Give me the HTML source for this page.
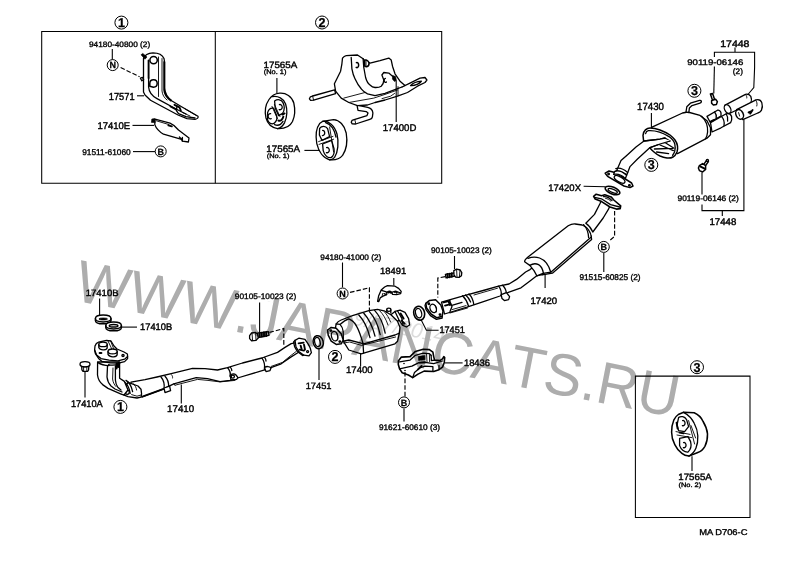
<!DOCTYPE html>
<html lang="en">
<head>
<meta charset="utf-8">
<title>Exhaust pipe parts diagram</title>
<style>
html,body{margin:0;padding:0;background:#fff;}
body{width:800px;height:565px;overflow:hidden;position:relative;}
svg{will-change:transform;position:absolute;left:0;top:0;display:block;}
text{font-family:"Liberation Sans",sans-serif;fill:#000;text-rendering:geometricPrecision;}
.l{stroke:#000;stroke-width:.4px;}
.s{stroke:#000;stroke-width:.35px;}
.t{stroke:#000;stroke-width:.35px;}
.c{text-anchor:middle;font-weight:bold;stroke:#000;stroke-width:.25px;}
.p{fill:none;stroke:#000;stroke-width:1.3;stroke-linecap:round;stroke-linejoin:round;}
.pf{fill:#fff;stroke:#000;stroke-width:1.3;stroke-linecap:round;stroke-linejoin:round;}
.th{fill:none;stroke:#000;stroke-width:.9;stroke-linecap:round;stroke-linejoin:round;}
.hv{fill:none;stroke:#000;stroke-width:1.9;stroke-linecap:round;stroke-linejoin:round;}
.k{fill:#000;stroke:#000;stroke-width:.6;stroke-linejoin:round;}
.ld{fill:none;stroke:#000;stroke-width:1.1;}
.da{fill:none;stroke:#000;stroke-width:1.15;stroke-dasharray:4.6 2;}
.bx{fill:none;stroke:#000;stroke-width:1.05;}
.ci{fill:#fff;stroke:#000;stroke-width:1;}
.wm{font-kerning:none;font-size:59.3px;fill:#adadad;stroke:none;}
.wd{font-size:21px;font-style:italic;fill:#dcdcdc;stroke:none;}
</style>
</head>
<body>
<svg width="800" height="565" viewBox="0 0 800 565">
<rect x="0" y="0" width="800" height="565" fill="#fff"/>

<!-- ===== frames ===== -->
<g id="frames">
<path class="bx" d="M41.7 31.4H441.7V183.2H41.7Z"/>
<path class="bx" d="M215.3 31.4V183.2"/>
<path class="bx" d="M635.4 376.1H750V517.5H635.4Z"/>
</g>

<!-- ===== parts ===== -->
<g id="parts">
<!-- 17571 bracket -->
<g id="p17571">
<path class="pf" d="M143.5 58.5C144.5 55.5 148 53 153 52.8C158 52.8 162.5 55 164 58.5L164.6 62V88C164.8 93 167 97 172 101L182 107L198 116.2C198.6 117.6 197.5 118.8 195 119.4L187 118.6L178 115L150.5 100.2L145 95L143.5 92Z"/>
<path class="hv" d="M148.6 60.5V78"/>
<path class="p" d="M148.6 78V87C149 92 152 96 157 98.6L177 109.5L186 114"/>
<path class="th" d="M158.5 57V96.5M162 58.5V91C162.5 95 164 97.5 167 100"/>
<path class="hv" d="M164.2 62V90C164.6 94.5 167 98 171 100.6"/>
<circle class="pf" cx="153.6" cy="60.1" r="3.7" style="stroke-width:1.5"/>
<path class="pf" d="M149.8 83.2A3.7 3.7 0 1 1 153.5 87.2L149.8 86.2Z" style="stroke-width:1.5"/>
<path class="k" d="M141 54.8L142.8 53.4L147 57L145 59.2Z"/>
<path class="pf" d="M140.4 78.2L142.4 77.4L143.6 79.6L141.8 80.8Z" style="stroke-width:1.3"/>
<path class="hv" d="M170.5 106.5L176.5 109.6M174.5 104.8L179.5 107.4L180.8 110.5"/>
<path class="p" d="M177 106.2L176.4 110.6L178.5 113.6L186 116.6L195 118"/>
<path class="th" d="M182.5 112.5L190 116M185 108.8L196.5 115.6"/>
</g>
<!-- 17410E clip -->
<g id="p17410E">
<path class="pf" d="M155 119.2L170 123.2C173 124.4 176 127 178.5 130L189 138L188.4 142L182.4 141.2L181.6 139.4L163.5 134.2C159 131.5 156 128 154.8 124.6Z"/>
<path class="k" d="M151.8 119L154.8 118.6L155.2 122.6L151.4 122.4Z"/>
<path class="th" d="M156.4 120.8L169 124.6"/>
<path class="hv" d="M168.4 125.4L171.8 126.4"/>
<path class="p" d="M182.4 137.4V141M179.4 137L181.6 139.4"/>
</g>
<!-- 17565A hanger No.1 (upper) -->
<g id="h1">
<path class="pf" d="M279.5 93.2C286 92.6 292 96.5 293.8 103C295.2 109 295 116 292.5 121.5C290 126.5 285 129 277.5 128.6C272 127.6 267.5 123.5 266 118C264.6 112 265.6 104.5 269 99.5C271.5 95.8 275.5 93.6 279.5 93.2Z"/>
<path class="p" d="M272.5 96.6C278 95.6 283.6 98.5 285.6 104C287.4 109.5 287 117 284.6 122.6C283 126 280.5 128 277.5 128.6"/>
<path class="p" d="M274.6 101C277.6 98.8 281.4 99.4 283 102.6C284.6 106 284.4 110.6 282.6 113.4L278.6 115.6L275.2 108Z"/>
<path class="p" d="M267.6 112.6C268.6 109.4 271 107.6 273.6 108.2L276.6 115.4C277.4 118.4 276.4 121.6 274 123.4C271.4 124.6 268.6 123 267.6 120Z"/>
<path class="th" d="M272 106.4L277.4 118.6M274.4 104.4L280 116.6"/>
<path class="p" d="M279.4 104.6A2.3 2.6 0 1 1 279.2 109.6M270.6 113.6A2.3 2.6 0 1 0 271.2 118.6"/>
<path class="hv" d="M282.4 114.6L284.6 113.4M278.4 120.6C280.6 121.4 282.6 119.6 283.4 116.6"/>
<path class="p" d="M274.6 124.6C277.6 126 281 124.6 283 121.4"/>
</g>
<!-- 17565A hanger No.1 (lower) -->
<g id="h2">
<path class="pf" d="M322.5 121.4L333.5 119.6C339.5 120 344.5 125 346.2 133C347.6 141 346.4 149.6 342.6 155.4C339.6 159 335 160.4 329.6 159.8C323.5 158 318.6 151.6 316.8 143.6C315.4 135.6 316.6 127.6 319.6 123.6Z"/>
<path class="p" d="M322.5 121.4C328.6 120.4 334.6 125.6 337 134C339 142.4 338 152 334.6 157.4C333.2 159 331.4 159.8 329.6 159.8"/>
<path class="p" d="M325.6 122.6C330.6 124 334.4 129.6 336 137"/>
<path class="p" d="M319.6 128.4C321.6 125.6 325.6 125.6 327.6 128.6L329.6 136.6L322 140.4L319.4 135Z"/>
<path class="p" d="M322.6 144L331.6 140.4L334 148.6C334.6 152.6 333.6 156 331 157.6C327.6 158 324.4 155 323.2 150.6Z"/>
<path class="th" d="M318.6 141.6L333 136.4M319 144.4L333.6 139.2M329.6 127L333.6 152"/>
<path class="p" d="M322.6 130.4A2.2 2.6 0 1 1 322.4 135.6M326.6 147.6A2.2 2.6 0 1 1 326.4 152.6"/>
</g>
<!-- 17400D heat insulator bracket -->
<g id="p17400D">
<path class="pf" d="M312.6 96L334.6 89.8L335.6 93.6L313.6 100.2L310.6 100.4L309.4 98.8L310.4 96.8Z"/>
<path class="th" d="M312.6 96L313.6 100.2"/>
<path class="pf" d="M357 105.2L367.6 107.4C370.6 108 372.6 110 372.9 113L372.4 116.8C372.2 118.2 371.2 119 369.8 119.4L355.6 124L352.2 123.8L351.2 122.2L352 120.4L354.2 119.6L367 115.6L368 113L366.2 111.6L358 110.4Z"/>
<path class="th" d="M354.8 119.6L355.8 123.8"/>
<path class="pf" d="M342.5 58.1C343.6 56.6 345 55.8 346.2 55.6L357.5 55L363.1 58.7L364.4 60.4L370 63.1L380 60.6L388.8 58.1L391.2 60L392.5 66.2L395 73.8L400 81.2L405 85.6L402 87L410 83.1L420 78.1L425 77.5L426.9 80L425 82.5L417.5 86.2L407.5 92.5L397.5 96.2L385 100L375 102.5L367.5 105L357.5 105.6L348.8 102.5L341.2 98.1L335.6 91.2L334.4 83.8L337.5 77.5L340.6 71.2L341.9 63.8Z"/>
<path class="p" d="M363.1 58.7L363.8 67.5L365.6 77.5C366.6 81 368 83.6 370 85C371.6 86.6 373.4 87.4 375 87.5C377.6 87.6 379.8 87.2 381.2 86.2C382.8 84.6 383.8 82.4 383.8 80L381.9 75L383.8 72.5L388.8 73.1L392.5 76.2"/>
<path class="p" d="M351.2 57.5L351.9 68.8C352.6 72.6 353.6 76 355 78.8C356.6 82.4 358.6 85.8 361.2 88.8C363 91 365 92.6 367.5 93.8L375 95.6L385 93.4L397.5 88.6L402 87"/>
<path class="th" d="M343.8 98.1L365 92.5M348.8 102.5L373.8 98.1L385 94.4L397.5 90"/>
<path class="p" d="M356.4 62.6A1.7 2.6 0 1 1 356.2 67.4" style="stroke-width:1.5"/>
<path class="pf" d="M364.6 60.2C366.6 59.6 368.6 60.8 369 63C369.2 65 368.2 66.4 366.6 66.8L364.8 66.2Z" style="stroke-width:1.5"/>
<path class="th" d="M366 60V66.6"/>
<path class="k" d="M392.6 75.4L395.6 76.6L396.4 80.6L394.4 81.4L392.4 79Z"/>
<path class="p" d="M385.4 78.4A1.4 2 0 1 0 386.4 82"/>
<path class="p" d="M410.5 85.6C412.5 83.6 417 81.6 421.4 81.2C420 83.6 415 86 410.5 85.6Z"/>
<path class="th" d="M382 98.6L390.6 96.2L394.6 93.4M398 86.6L398 95.8"/>
</g>
<!-- 17410 front pipe -->
<g id="p17410">
<!-- long pipe body -->
<path class="pf" d="M131 382.2L145 379.6L157 377L171.2 373.6L192.5 368.4L205 368.7L217.5 370L227.5 367.6L242.5 363L261.9 358L277.5 352.4L285 347.4L291.2 343.6L296 342.6L299 352L290 357.6L281.2 363.8L267.5 368.8L263.8 370.2L237.5 378L230 380.4L220 381.6L207.5 378.6L196.2 377.6L173.8 383.8L163 389.2L142 397L131 392Z"/>
<path class="hv" d="M142.4 396.6L163 389.2"/>
<path class="th" d="M175 385.2L197.5 379.4L208 380.4L220 381.9L235 380.4M173.8 383.8L175 385.2"/>
<path class="th" d="M271.2 366.4L282.5 362.4L290 356.2L296 351.6"/>
<!-- band clamp 1 -->
<path class="p" d="M161 377C163.6 380 164.6 385 164 389M165 376.2C167.6 379 168.8 383 168.6 386.6"/>
<path class="pf" d="M164 388L169.6 386.2L170.6 390.6L165 392.6Z"/>
<path class="th" d="M171.4 374.6C172.4 375.6 172.8 377 172.6 378"/>
<!-- band clamp 2 -->
<path class="p" d="M227.6 367.8C229.6 370 230.6 373.6 230.2 376.6M230.4 367.4C231.4 368.4 231.8 369.6 231.8 370.6"/>
<path class="pf" d="M230.2 375.2C231.6 373.6 234.6 373.6 236 375L238 377.6L236.6 379.4L231 380Z"/>
<circle class="p" cx="232.8" cy="376.6" r="1.6"/>
<!-- band 3 -->
<path class="p" d="M262 358.2C264 361 265 365.6 264.4 369.6M264.6 357.4C265.6 358.6 266 360 266 361"/>
<path class="pf" d="M264.6 367.6C266.4 366 269.6 366.2 271 368L270 370.6L266 371.6Z"/>
<!-- rear flange of front pipe -->
<path class="pf" d="M295 340.4L298.8 338.2L305 339.4L308.4 344.4L310.2 348L311.4 352.6L309 355.8L303.8 355.2L298.8 351.4L296 347Z"/>
<path class="p" d="M295 340.4L293.6 342L294.6 346.6L297.4 351.6L302.6 355.6L303.8 355.2"/>
<path class="hv" d="M298.6 343.4L303.6 342.6M299.6 349.6L304 350.6M300.6 345.6L301.6 349M304 344.6L305 349.6"/>
<circle class="p" cx="307.6" cy="351.6" r="1"/>
<!-- joint shield near front -->
<path class="pf" d="M128 382.4L138 386L141 389.2L141.6 394L141 397.2L137 398L128 396.6L121 393.8Z"/>
<path class="p" d="M124 381.4C127 383.6 129.4 388 130.2 393.4M126 380.4C129.4 382.4 131.6 386.6 132.6 391.6"/>
<circle class="pf" cx="127.2" cy="392.2" r="2.1"/>
<path class="th" d="M131.6 394.6L137 396.2L141 395M133 383.6C135 385 136.4 387.6 136.6 390"/>
<!-- twin down pipes -->
<path class="pf" d="M97.6 362L97.5 375C98 379 99.6 382 102.6 384.6L108 388.4L120 393.6L124 395L128 390L124.4 381.4L119.6 378.2L119.6 362Z"/>
<path class="p" d="M107.5 366L107 377C107.4 380.6 108.6 383.6 111 386L115 389L122 392"/>
<path class="p" d="M115.4 366V380C115.6 383 116.4 385.6 118 387.6L121 390"/>
<path class="hv" d="M116.6 363.4V368.6M118.4 362.6V367"/>
<path class="th" d="M113 368L112.6 379C113 382 114 384.6 116 386.6"/>
<path class="p" d="M97.6 362.4C100.6 364.4 104.6 365.6 109 365.6M108.6 364.6C111.6 365.6 115.6 365.2 119.6 363.6"/>
<!-- flange plate -->
<path class="pf" d="M95 346C95.6 344 97 342.6 98.6 342.2L106.5 340.4L111 341L114 346L117 349L124 352L127.4 354L127.6 356.6L124.6 359.2L118 360.8L109 360.2L101 358.6L96.6 355L94.6 350Z"/>
<path class="p" d="M94.6 350L95.4 353.6L98.6 358.4L102 361.4L110 362.8L118.6 363.2L124.6 361.6L127.6 358.6L127.6 356.6"/>
<ellipse class="pf" cx="103" cy="344.4" rx="4.2" ry="2.2"/>
<path class="p" d="M98.8 344.6V347.6C99.6 349.4 102 350 104 349.8C106 349.6 107.2 348.6 107.2 347.4V344.6"/>
<ellipse class="pf" cx="112.6" cy="351.4" rx="4.6" ry="2.4"/>
<path class="p" d="M108 351.6V354.4C109 356.2 111.6 357 113.6 356.8C115.6 356.6 117.2 355.6 117.2 354.2V351.6"/>
<path class="th" d="M108 341L111.6 348.6M110.6 341L113.6 348.6"/>
<circle class="p" cx="123" cy="355.6" r="1.1"/>
<path class="hv" d="M99.6 353H101.4"/>
</g>
<!-- 17410A nut -->
<g id="p17410A">
<path class="pf" d="M81.6 365.2L81.9 369.8L83 371.3H87.6L88.6 369.8L88.9 365.2Z"/>
<ellipse class="pf" cx="85" cy="364.2" rx="5" ry="2.6"/>
<path class="th" d="M83.6 367V371M86.8 367V371"/>
<path class="th" d="M81.2 366.2C82.4 367.4 87.6 367.4 88.9 366.2"/>
</g>
<!-- bolt 90105-10023 (left) -->
<g id="bolt1">
<path class="pf" d="M257.4 333.2L268.4 331.6L269 335.4L258 337.6Z"/>
<path class="hv" d="M259.6 333V337M261.8 332.6V336.6M264 332.2V336.2M266.2 332V336"/>
<path class="pf" d="M249.6 335.6L251.6 333L255.6 332.4L257.6 334.4L258.2 338L256 340.4L251.6 340.8L249.6 338.6Z"/>
<path class="th" d="M252 333L252.6 340.6M255.6 332.6L256 340.2"/>
</g>
<!-- gasket 17451 (left) -->
<g id="g17451a">
<ellipse class="pf" cx="318.2" cy="342.2" rx="5" ry="6.6" transform="rotate(-14 318.2 342.2)" style="stroke-width:1.5"/>
<ellipse class="p" cx="317.4" cy="342" rx="2.7" ry="4.6" transform="rotate(-14 317.4 342)"/>
</g>
<!-- 17410B rings -->
<g id="p17410B">
<path class="pf" d="M95.4 318.6C95.4 316.4 98.8 315 103.2 315C107.6 315 111 316.4 111 318.6V320.4C111 322.4 107.6 323.8 103.2 323.8C98.8 323.8 95.4 322.4 95.4 320.4Z" style="stroke-width:1.5"/>
<path class="p" d="M95.4 318.6C95.4 320.6 98.8 322 103.2 322C107.6 322 111 320.6 111 318.6"/>
<ellipse class="k" cx="103.2" cy="319" rx="4.3" ry="1.1"/>
<path class="pf" d="M105.8 325.6C105.8 323.4 109.2 322 113.6 322C118 322 121.4 323.4 121.4 325.6V327.4C121.4 329.4 118 330.8 113.6 330.8C109.2 330.8 105.8 329.4 105.8 327.4Z" style="stroke-width:1.5"/>
<path class="p" d="M105.8 325.6C105.8 327.6 109.2 329 113.6 329C118 329 121.4 327.6 121.4 325.6"/>
<ellipse class="p" cx="113.6" cy="325.8" rx="4.3" ry="1.3" style="stroke-width:1.5"/>
</g>
<!-- 17400 catalytic converter -->
<g id="p17400">
<!-- outlet flange (rear) -->
<path class="pf" d="M395 311.4L400 310.2L405 312.4L408.6 318.6L409.6 325L406.4 327L402.4 325.2L399 320Z"/>
<path class="hv" d="M400.6 313.6L403.6 318.6M401.6 320.6L404.6 323.6"/>
<path class="p" d="M397.6 311L402 318.6L403 325"/>
<!-- lower shell -->
<path class="pf" d="M343.4 341.4L348.8 350L361.2 353.8L395 343.8L397.6 341.2L399.4 333L396 326Z"/>
<!-- body upper shell -->
<path class="pf" d="M336.2 323.8C337.6 321.6 339.6 320.6 341.2 320L352.5 315.6L368.8 310.6L377.5 309.4L385 311.2L391.2 315L397.5 321.2L400 327.6L399.4 333.2L395 335L363.8 343.8L361.2 343.2L348.8 340L343.2 341.2L341 337Z"/>
<path class="p" d="M340 324.4C342.6 322 346 319.6 348.8 318.8C352 320 355 323 356.8 326.6C359 330.6 361 336.4 363 343.4"/>
<path class="p" d="M358.8 315C363.6 320 367.6 328 370 337.6M363.8 313.2C368.6 318.4 372.6 326.4 375 336.2M369.4 311.6C374 316.6 378 324.6 380.2 334.6M374.6 310.4C379 315 383 322.4 385.2 333.2"/>
<path class="th" d="M379.6 310.6C383 314 386 319 388 325M384.6 312C387 314.6 389 318 390.6 322"/>
<path class="p" d="M363 343.4L363.6 353"/>
<path class="th" d="M343.6 343L349.6 342L361.6 345.4L395.6 337"/>
<ellipse class="pf" cx="388.8" cy="309.8" rx="2.1" ry="1.6"/>
<path class="p" d="M386.8 310V312.2M390.8 310V313"/>
<path class="p" d="M391.2 314.6L395 311.4M397.6 321.2L399.4 320.4"/>
<!-- inlet neck + front flange -->
<path class="pf" d="M336.2 323.8L340 324.4C342 326.4 343 329 343.2 331.6L343.4 341.4L339 338L335 330Z"/>
<path class="pf" d="M327.6 330L331.2 327.4L336.2 328.2L341.2 333.8L343.2 340L341.2 343.8L336.2 344.4L331.2 341.2L328.2 335.2Z" style="stroke-width:1.5"/>
<ellipse class="pf" cx="334.6" cy="336.2" rx="3.1" ry="4.8" transform="rotate(-16 334.6 336.2)"/>
<path class="th" d="M336.6 332.6C337.8 334.6 338.2 337.6 337.6 340"/>
<circle class="p" cx="330.8" cy="330.6" r=".8"/><circle class="p" cx="339.8" cy="341.6" r=".8"/>
</g>
<!-- 18491 upper shield -->
<g id="p18491">
<path class="pf" d="M377.6 301.4L378.6 296L381.2 290L384.6 287L387.5 285.6L395 286.2L398.6 288.4L401.2 291.4L400.6 293.6L396.6 294.6L392.6 294.4L391.6 292.4C390.4 290.8 388 290.8 387 292.4L386.6 294.6L383 296.2L380.4 297.6L378.8 301.6Z"/>
<path class="p" d="M381.4 290.4L385.6 291.6L387 292.4M384 293.6L386.6 294.6M391.6 292.4L395.6 291.2L400.6 293"/>
<path class="hv" d="M388.6 292.6C389.4 291.6 390.6 291.8 391 292.8"/>
<path class="th" d="M394.4 292.6H397.4M396.6 291.8V293.4M382 296.8L382.6 293.6"/>
</g>
<!-- gasket 17451 (right) -->
<g id="g17451b">
<ellipse class="pf" cx="419.2" cy="313.2" rx="5.4" ry="7" transform="rotate(-16 419.2 313.2)" style="stroke-width:1.6"/>
<ellipse class="p" cx="418.6" cy="313.2" rx="3" ry="4.8" transform="rotate(-16 418.6 313.2)"/>
</g>
<!-- 18436 lower bracket -->
<g id="p18436">
<path class="pf" d="M398.3 361L401.4 357.1L410.1 356.6L415.4 351.4L423.2 349.2L429.4 349.6L432.9 352.2L433.7 356.6L434.6 360.1L439.9 360.6L442.5 358.8L443.8 356.6L444.7 357.5L444.2 362.7L442.5 367.1L439 369.7L433.7 371.5L424.1 371.1L418 374.1L412.7 377.6L408.4 375L402.2 372.8L399.6 368.9L398.3 364.5Z" style="stroke-width:1.6"/>
<path class="p" d="M399.6 361.9L410.1 360.1L415.4 355.3L423.2 353.1L429.4 353.6L431.1 355.3"/>
<path class="p" d="M399.6 368.9L411.9 366.2L418.9 362.7L425 362.3L433.7 363.6L442.5 361"/>
<path class="p" d="M412.7 377.6L414.5 372.4L419.7 368L425 366.2L432.9 366.7L432.9 371.3"/>
<path class="p" d="M439 365.4V369.6M431.1 355.3L431.4 360.6L434.6 360.1"/>
<path class="k" d="M418.4 356.2L424.8 355.6L425 359.8L418.6 360.4Z"/>
<path class="hv" d="M418 369.4L421.6 366M419.6 362.6L425 362.2"/>
<path class="th" d="M426.6 354.4L427 361.6M429.4 354.6L429.6 361.6"/>
<circle class="k" cx="404" cy="363.6" r=".5"/><circle class="k" cx="405" cy="370.6" r=".5"/>
</g>
<!-- 17420 center pipe -->
<g id="p17420">
<!-- pipe front section -->
<path class="pf" d="M441.5 302L462.5 296L485 290L498.5 286.2L509 284L516.5 279.4L525.6 272L530 269.6L536.8 264.4L547 262L550.8 268.8L550 272.6L536.8 275.8L530 281L521 287.8L509 292.2L500 296L485 301.2L467 307.2L444.5 314Z"/>
<path class="p" d="M462.6 295.8C465.4 298.6 467.6 302.6 468.6 306.4M465.6 295C468 297 469.6 299.6 470.6 302M469 294C471.6 296.6 473.2 300.4 473.8 304.4"/>
<path class="hv" d="M443.6 302.4L449.6 300.8M445 305.6L450.6 304.2M448.6 301.4L449.8 305"/>
<path class="p" d="M449.6 300.8L452 306.4L450 311.6M451 305.6L462 302.4"/>
<path class="th" d="M450 313L467.5 308M474 295L497.5 288.2M452 309.6L466 305.6"/>
<!-- clamp -->
<path class="p" d="M498.6 286.2C500.6 288.6 501.6 292 501.2 295.6M502.6 285.2C505 287.6 506.4 291.4 506.2 294"/>
<path class="pf" d="M501.2 294.6L506.4 292.6L509.6 296.6L508.6 299.6L504.4 300.6L502 298.6Z"/>
<!-- front flange -->
<path class="pf" d="M425.8 303.4L429.6 300.4L435.6 299.8L440.8 305L443 311L442.2 316.2L437 317.8L431 314L426.6 308Z" style="stroke-width:1.5"/>
<ellipse class="pf" cx="433.2" cy="308.4" rx="3.1" ry="4.4" transform="rotate(-20 433.2 308.4)"/>
<path class="th" d="M435 305.4C436.4 307.4 436.8 310 436.4 312"/>
<circle class="p" cx="428.8" cy="303.8" r=".8"/><circle class="p" cx="440" cy="314.6" r=".8"/>
<path class="p" d="M425.8 303.4L425 305.4L426 309.6L430.4 315.6L436.4 319.4L442.2 318L442.2 316.2"/>
<!-- resonator -->
<path class="pf" d="M542 274.8L552.4 273.2L591.6 239.4L591.2 236L586 238Z"/>
<path class="pf" d="M524.6 261.8C524.4 260 526 258.6 528 257L568.2 225.8C570.6 224.4 573 223.8 575.2 224L582.2 225C585 226 587.4 228 589 230.6C590.6 233 591.4 235.4 591 237.2L550.8 272.2L543 273.4L536.8 275.8L534 270.6L529.8 265.4Z"/>
<path class="p" d="M528 258.4C531.6 257 535.6 256.8 539.6 258C544.6 259.8 548.6 264.4 550.8 272.2"/>
<path class="p" d="M529.8 265.4C532.6 263.6 536 263.4 538.6 264.6C541 266 542.6 268.6 543.4 273"/>
<path class="p" d="M583.6 224.6C586.4 227.6 588.4 232 588.6 237.6"/>
<!-- outlet pipe and rear flange -->
<path class="pf" d="M585.8 223.2L594.5 214.4L599.8 204L601.4 200.4L610.4 204.8L608.5 209.2L603.2 218L592.8 232C591.6 229 589 225.4 585.8 223.2Z"/>
<path class="pf" d="M593.6 196.3L596.2 194.2L601.6 195.8L604.8 194.8L611.1 196.9L613.8 200L620.7 205.9L620.2 208.6L616.4 209.1L610 207L601.6 201.6L595.2 199Z" style="stroke-width:1.6"/>
<path class="p" d="M594.6 197.4L601.4 198.8L610.6 204.6L619.6 207M603.6 196.6C606.6 196.4 610 198.2 612 200.6"/>
<path class="th" d="M605.6 198.4C607.6 198.6 609.6 199.8 610.8 201.2"/>
</g>
<!-- 17420X gasket -->
<g id="p17420X">
<ellipse class="pf" cx="612.5" cy="190.5" rx="7.8" ry="3.4" transform="rotate(22 612.5 190.5)" style="stroke-width:1.6"/>
<ellipse class="p" cx="612.7" cy="190.8" rx="4.9" ry="1.6" transform="rotate(22 612.7 190.8)"/>
</g>
<!-- bolt 90105-10023 (right) -->
<g id="bolt2">
<path class="pf" d="M445.4 274.4L454.4 272.8L455 276L446 277.8Z"/>
<path class="hv" d="M447.4 274V277.6M449.6 273.6V277.2M451.8 273.2V276.8"/>
<path class="pf" d="M453.8 270.6L456.6 269.2L460.2 270L461.8 272.6L461.4 275.8L459 277.4L455.6 277.2L454 275Z"/>
<path class="th" d="M456.6 269.4L457 277.2M460 270.2L459.4 277"/>
</g>
<!-- 17430 main muffler -->
<g id="p17430">
<!-- tail outlets -->
<path class="pf" d="M707 116.4L717.5 110.2C719 109.8 720.6 111 721 112.8L721 116L710 122Z"/>
<path class="pf" d="M710.5 122.6L726.2 113.8C728.6 113.2 730.8 114.4 731.6 116.4C732 118.6 731.6 121 730.6 122.6L721 127.8L712 132Z"/>
<path class="p" d="M714.6 112C716 113.6 716.6 116 716.2 118.2M721.6 116.6C723.6 118.6 724.6 122 724 125.6M726.2 114C727.6 116 728.2 118.6 727.6 121"/>
<path class="hv" d="M710.6 121.6L713.6 120.2"/>
<!-- body -->
<path class="pf" d="M651.5 127.4L682.5 113L687.8 112L700 115.4L707 120.8L710.5 127.8L710.5 134.8L707 138.2L677.5 153.6L664 150Z"/>
<path class="p" d="M701.6 116.2C705.6 120 708 126 707.6 132C707.4 134.6 706.6 137 705.4 138.8"/>
<!-- front face -->
<path class="pf" d="M643 135.4C643.4 132.6 644.2 130.8 645.4 129.8C646.8 128.6 648.4 128 650 128C653.4 128 656.8 128.8 660 130C663.6 131.4 667 133 670 135C672 136.6 673.6 138.2 675 140C676.4 142 677.2 144 677.5 146C677.8 148.2 677.6 150.2 677 152C676 154.4 674.8 156 673 157C671.2 158 669.2 158.3 667 158C664.6 157.6 662.4 157 660 156C657.8 155 655.8 153.6 654 152C652.4 150.6 651 149.2 650 148L643.6 141Z" style="stroke-width:1.5"/>
<path class="p" d="M645.6 133.6C646 131.8 647 130.8 648.4 130.6C655 130.2 663 132.8 669 136.6C672 138.8 674 141 674.8 144C675.4 146.6 675.4 149.4 674.6 151.8C674 153.4 673.4 154.4 672.6 155.2"/>
<path class="p" d="M661 140L674 148.2M654.4 149L672.6 148.4M660 145L673.4 150.6M656.6 152L668.6 153.6"/>
<!-- inlet pipe (over the face) -->
<path class="pf" d="M616.5 171L621 160.6L627 155.2L636 147L644 141L660 139.2L665 138L670 141L660 144L650 147.6L637.5 159L630 166.6L627 174.6Z"/>
<path d="M661 138.6L670.6 140.6L661 144.4L656 143Z" fill="#fff" stroke="none"/>
<path class="p" d="M644 141L660 139.2L665 138M650 147.6L660 144L670 141"/>
<path class="p" d="M614.6 171.6C617.6 170 622.6 171.6 626.6 175.2M615.8 168.6C619 167.6 624 169.4 627.6 172.6"/>
<!-- inlet flange -->
<path class="pf" d="M605.2 173.2L609 171L615 172.4L631.6 183L633 186L630 187.6L624 186L607.6 176.4Z" style="stroke-width:1.5"/>
<ellipse class="pf" cx="619.6" cy="179.4" rx="6" ry="2.5" transform="rotate(30 619.6 179.4)"/>
<path class="pf" d="M614.6 171.6C617.6 170 622.6 171.6 626.6 175.2L625.4 178.6C622.4 175.6 617.6 173.6 613.6 174.4Z"/>
<circle class="p" cx="608.6" cy="174" r=".8"/><circle class="p" cx="629.4" cy="185.4" r=".8"/>
<!-- hanger hook -->
<path class="pf" d="M686 112L686.8 106.8L690.4 103.2L699.6 100.4C700.6 100.2 701.4 100.8 701.4 101.6C701.4 102.4 700.8 103 700 103.2L692 105.6L689.4 108L688.8 112.6Z"/>
</g>
<!-- 17448 tail pipe tips -->
<g id="p17448">
<path class="pf" d="M724.6 105.4L745.5 94.4C747.6 93.8 749.6 94.8 750.8 96.4C751.8 98.4 751.6 101 750.8 103.2L730.6 113Z"/>
<ellipse class="pf" cx="727.6" cy="109" rx="3" ry="4.6" transform="rotate(-26 727.6 109)"/>
<path class="th" d="M745.6 94.6C746.6 95.6 747 97 746.8 98"/>
<path class="pf" d="M736.6 109.6L756 99.8C758.6 99.2 761 100.4 761.8 102.6C762.6 105 762.4 108 761.4 110.4C760.6 111.8 759.4 112.6 757.8 113L742.8 119.6Z"/>
<ellipse class="pf" cx="739.6" cy="114.4" rx="3.6" ry="5" transform="rotate(-26 739.6 114.4)" style="stroke-width:1.5"/>
<path class="th" d="M755.6 100C757 101.6 757.4 104 756.8 106M738.6 112.6L739.6 116"/>
<path class="hv" d="M748.6 112.4L751.6 111.2M750.2 113.6L752.6 110"/>
</g>
<!-- small bolts 90119-06146 -->
<g id="bolts3">
<path class="pf" d="M710.4 94L712.6 93.4L714.6 99.6L712.6 100.4Z" style="stroke-width:1.5"/>
<path class="pf" d="M711.6 100.6L715.6 99.2L717.4 101.6L716.4 104.4L713.4 105L711.6 103.2Z" style="stroke-width:1.5"/>
<path class="pf" d="M706.6 160.4L708.4 161.6L705 166.4L703 165.4Z" style="stroke-width:1.5"/>
<circle class="pf" cx="707.4" cy="160.6" r="1.1"/>
<path class="pf" d="M699.4 165.6L702.6 163.6L705.6 165.6L705.6 169.4L702.6 172L699.4 170.6L698.4 168Z" style="stroke-width:1.5"/>
<path class="hv" d="M700.6 166.6L704.6 168.6"/>
</g>
<!-- 17565A hanger No.2 -->
<g id="h3">
<path class="pf" d="M683.6 412.3L694.2 412.7C698.6 414.6 701.6 418 703.1 421.5C705.6 425.6 707.2 430 707.5 433.9C707.6 438.6 706.6 443 704.9 446.3C703 449.6 700.6 451.6 697.8 452.5L688.9 456.1C686 455.8 683.6 454.8 681.9 453.4C678.6 451 676.4 448 674.8 444.6C672.6 440.6 671.6 436.4 671.6 432.2C671.6 427.6 672.4 423.4 673.9 419.8C675 417.6 676.4 415.8 678.3 414.5Z" style="stroke-width:1.5"/>
<path class="p" d="M683.6 412.3C688 414.6 692 418.6 694.2 423.3C696.4 427.4 697.6 431.6 697.8 435.7C698 440.4 697.4 444.6 696 448.1C694.6 451.6 692 454.6 688.9 456.1"/>
<path class="p" d="M678.6 417.6C681 415.6 684.6 416.6 686.6 419.6L688.6 426.6L684.6 431.6L678.6 430.6L677 425Z"/>
<path class="p" d="M679.6 438.4L688 436.6L690.6 441.6C691.6 445.6 690.6 449.6 688 452C684.6 452.4 681 449.6 679.6 445.6Z"/>
<path class="th" d="M676 431.6L690 434.4M677 435L691.6 437.6M688.6 420.6L694.6 444M691 425.6L695.6 438"/>
<path class="p" d="M682.6 420.6A2 2.6 0 1 1 682.4 425.6M683.6 442.6A2 2.6 0 1 1 683.4 447.6"/>
<path class="hv" d="M676.6 422.6L677.6 428.6M679.6 432.6L683.6 433.4"/>
</g>
<!--PARTS-->
</g>

<!-- ===== leaders ===== -->
<g id="leaders">
<path class="ld" d="M112.3 49V60"/>
<path class="da" d="M120.6 67.6L139.6 76.8"/>
<path class="ld" d="M137 95.8H144"/>
<path class="ld" d="M132.5 125.4H154"/>
<path class="ld" d="M133 151.6H155"/>
<path class="ld" d="M276.9 78V93.4"/>
<path class="ld" d="M304.4 150.4H319.6"/>
<path class="ld" d="M396.2 80.4V122"/>
<path class="ld" d="M85 371.6V397.4"/>
<path class="ld" d="M181.3 384.6V403.6"/>
<path class="ld" d="M259.6 302.5V332"/>
<path class="da" d="M269.4 332.4L283.8 328.6V346.4"/>
<path class="ld" d="M319 349V380"/>
<path class="ld" d="M99.6 298.4V315.4"/>
<path class="ld" d="M121.6 327.1H137"/>
<path class="ld" d="M342.5 262.5V287.4"/>
<path class="da" d="M350 292.4L369.4 287.8V310"/>
<path class="ld" d="M393.8 278V285.6"/>
<path class="ld" d="M360.6 353.8V366"/>
<path class="ld" d="M421.2 320L426.4 330.2H438.6"/>
<path class="ld" d="M445 362.9H462.6"/>
<path class="da" d="M405 372V396.4"/>
<path class="ld" d="M404 408.4V421.6"/>
<path class="ld" d="M454.5 256V269"/>
<path class="da" d="M445.2 276.6L437.8 278V297.6"/>
<path class="ld" d="M545.1 274.4V288"/>
<path class="da" d="M614.6 211V236.4L609.4 240.8"/>
<path class="ld" d="M603.8 253V272"/>
<path class="ld" d="M583.6 186.2L605.4 186.8"/>
<path class="ld" d="M651.4 113V127.8"/>
<path class="ld" d="M735 47.6V52.2M714.4 57V52.2H754.6V67.5L753.8 87.5L747.5 95"/>
<path class="ld" d="M714.4 66.6L713.8 93.6"/>
<path class="ld" d="M743.9 119.4V210.6H702V204.4M702 194.4V172.4M722.3 210.6V216"/>
<path class="ld" d="M692 456.2V471"/>
<!--LEADERS-->
</g>

<!-- ===== circled marks ===== -->
<g id="marks">
<circle class="ci" cx="121.4" cy="22.6" r="6.5"/><text class="c" x="121.4" y="27.0" font-size="12.8" textLength="7.0" lengthAdjust="spacingAndGlyphs">1</text>
<circle class="ci" cx="322.0" cy="22.5" r="6.5"/><text class="c" x="322.0" y="26.9" font-size="12.8" textLength="7.0" lengthAdjust="spacingAndGlyphs">2</text>
<circle class="ci" cx="694.4" cy="90.8" r="6.5"/><text class="c" x="694.4" y="95.2" font-size="12.8" textLength="7.0" lengthAdjust="spacingAndGlyphs">3</text>
<circle class="ci" cx="651.3" cy="164.9" r="6.5"/><text class="c" x="651.3" y="169.3" font-size="12.8" textLength="7.0" lengthAdjust="spacingAndGlyphs">3</text>
<circle class="ci" cx="697.0" cy="367.2" r="6.5"/><text class="c" x="697.0" y="371.6" font-size="12.8" textLength="7.0" lengthAdjust="spacingAndGlyphs">3</text>
<circle class="ci" cx="335.0" cy="356.9" r="6.5"/><text class="c" x="335.0" y="361.3" font-size="12.8" textLength="7.0" lengthAdjust="spacingAndGlyphs">2</text>
<circle class="ci" cx="120.4" cy="406.9" r="6.5"/><text class="c" x="120.4" y="411.3" font-size="12.8" textLength="7.0" lengthAdjust="spacingAndGlyphs">1</text>
<circle class="ci" cx="112.7" cy="65.1" r="5.5"/><text class="c" x="112.7" y="68.2" font-size="9.0">N</text>
<circle class="ci" cx="342.6" cy="293.5" r="5.5"/><text class="c" x="342.6" y="296.6" font-size="9.0">N</text>
<circle class="ci" cx="160.7" cy="151.4" r="5.5"/><text class="c" x="160.7" y="154.5" font-size="9.0">B</text>
<circle class="ci" cx="603.8" cy="246.9" r="5.5"/><text class="c" x="603.8" y="250.0" font-size="9.0">B</text>
<circle class="ci" cx="404.0" cy="402.4" r="5.5"/><text class="c" x="404.0" y="405.5" font-size="9.0">B</text>
</g>

<!-- ===== labels ===== -->
<g id="labels">
<text class="s" x="89.0" y="46.7" font-size="7.8" textLength="61.2" lengthAdjust="spacingAndGlyphs">94180-40800 (2)</text>
<text class="l" x="108.8" y="99.6" font-size="10.1" textLength="25.8" lengthAdjust="spacingAndGlyphs">17571</text>
<text class="l" x="97.5" y="128.7" font-size="9.7" textLength="32.7" lengthAdjust="spacingAndGlyphs">17410E</text>
<text class="s" x="82.2" y="155.3" font-size="8.4" textLength="48.5" lengthAdjust="spacingAndGlyphs">91511-61060</text>
<text class="l" x="263.5" y="67.8" font-size="9.1" textLength="33.8" lengthAdjust="spacingAndGlyphs">17565A</text>
<text class="t" x="263.7" y="73.7" font-size="6.8" textLength="22.7" lengthAdjust="spacingAndGlyphs">(No. 1)</text>
<text class="l" x="266.3" y="151.9" font-size="9.4" textLength="33.8" lengthAdjust="spacingAndGlyphs">17565A</text>
<text class="t" x="266.7" y="158.2" font-size="6.4" textLength="22.8" lengthAdjust="spacingAndGlyphs">(No. 1)</text>
<text class="l" x="382.8" y="131.0" font-size="9.7" textLength="33.5" lengthAdjust="spacingAndGlyphs">17400D</text>
<text class="l" x="720.2" y="46.7" font-size="9.5" textLength="29.3" lengthAdjust="spacingAndGlyphs">17448</text>
<text class="s" x="687.2" y="64.7" font-size="8.1" textLength="56.1" lengthAdjust="spacingAndGlyphs">90119-06146</text>
<text class="s" x="732.8" y="74.2" font-size="8.0" textLength="10.1" lengthAdjust="spacingAndGlyphs">(2)</text>
<text class="l" x="637.0" y="110.4" font-size="10.4" textLength="27.0" lengthAdjust="spacingAndGlyphs">17430</text>
<text class="l" x="548.2" y="190.7" font-size="9.5" textLength="32.8" lengthAdjust="spacingAndGlyphs">17420X</text>
<text class="s" x="677.5" y="201.3" font-size="8.0" textLength="61.3" lengthAdjust="spacingAndGlyphs">90119-06146 (2)</text>
<text class="l" x="709.5" y="225.0" font-size="9.7" textLength="26.8" lengthAdjust="spacingAndGlyphs">17448</text>
<text class="s" x="431.0" y="252.9" font-size="8.1" textLength="60.8" lengthAdjust="spacingAndGlyphs">90105-10023 (2)</text>
<text class="s" x="579.4" y="279.7" font-size="8.3" textLength="61.2" lengthAdjust="spacingAndGlyphs">91515-60825 (2)</text>
<text class="l" x="530.5" y="304.1" font-size="9.4" textLength="26.7" lengthAdjust="spacingAndGlyphs">17420</text>
<text class="l" x="439.4" y="332.9" font-size="9.4" textLength="25.5" lengthAdjust="spacingAndGlyphs">17451</text>
<text class="l" x="463.9" y="365.7" font-size="9.4" textLength="26.2" lengthAdjust="spacingAndGlyphs">18436</text>
<text class="s" x="378.9" y="429.5" font-size="8.1" textLength="61.2" lengthAdjust="spacingAndGlyphs">91621-60610 (3)</text>
<text class="l" x="678.3" y="480.2" font-size="9.1" textLength="33.5" lengthAdjust="spacingAndGlyphs">17565A</text>
<text class="t" x="678.5" y="486.7" font-size="6.4" textLength="22.7" lengthAdjust="spacingAndGlyphs">(No. 2)</text>
<text class="s" x="699.2" y="535.4" font-size="8.3" textLength="48.2" lengthAdjust="spacingAndGlyphs">MA D706-C</text>
<text class="l" x="85.7" y="295.7" font-size="9.2" textLength="32.9" lengthAdjust="spacingAndGlyphs">17410B</text>
<text class="l" x="140.1" y="329.9" font-size="9.5" textLength="32.1" lengthAdjust="spacingAndGlyphs">17410B</text>
<text class="s" x="234.8" y="299.3" font-size="8.0" textLength="61.4" lengthAdjust="spacingAndGlyphs">90105-10023 (2)</text>
<text class="s" x="320.3" y="259.6" font-size="8.0" textLength="61.0" lengthAdjust="spacingAndGlyphs">94180-41000 (2)</text>
<text class="l" x="380.1" y="274.1" font-size="9.2" textLength="26.2" lengthAdjust="spacingAndGlyphs">18491</text>
<text class="l" x="305.7" y="389.3" font-size="9.2" textLength="25.8" lengthAdjust="spacingAndGlyphs">17451</text>
<text class="l" x="346.0" y="373.0" font-size="9.5" textLength="26.7" lengthAdjust="spacingAndGlyphs">17400</text>
<text class="l" x="70.9" y="407.1" font-size="9.7" textLength="31.8" lengthAdjust="spacingAndGlyphs">17410A</text>
<text class="l" x="167.1" y="412.4" font-size="9.7" textLength="27.0" lengthAdjust="spacingAndGlyphs">17410</text>
</g>

<!-- ===== watermark ===== -->
<g id="watermark" style="mix-blend-mode:multiply">
<text class="wd" transform="translate(352.5 324.6) rotate(11.6)">9/27/2014</text>
<clipPath id="jc"><path clip-rule="evenodd" d="M-50 -80H700V40H-50Z M193 -43H204.2V-35.9H193Z"/></clipPath>
<text class="wm" clip-path="url(#jc)" transform="translate(73.05 300.15) rotate(11.02) scale(0.9648 1)">WWW.JAPANCATS.RU</text>
</g>
</svg>
</body>
</html>
